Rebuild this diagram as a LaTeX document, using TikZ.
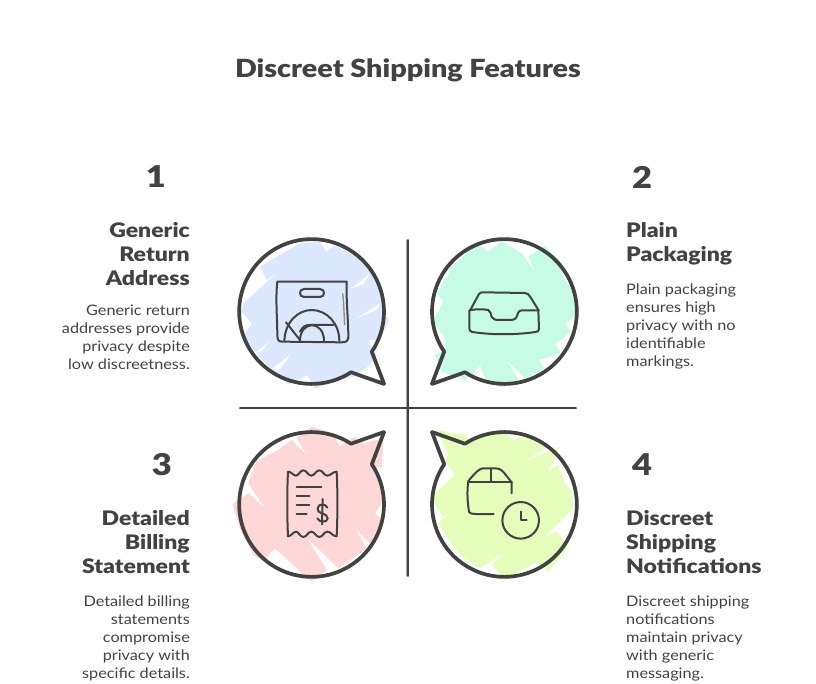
\documentclass[tikz,border=0pt]{standalone}
\usepackage{fontspec}
\setmainfont{Lato}[FakeStretch=1.12,BoldFont={Lato Black},BoldFeatures={FakeStretch=1.15}]
\definecolor{ink}{HTML}{424242}
\definecolor{fillA}{HTML}{DBE8FE}
\definecolor{fillB}{HTML}{C6FCE5}
\definecolor{fillC}{HTML}{FED7D7}
\definecolor{fillD}{HTML}{E6FEBC}
\newcommand{\bubbleoutline}{(60.2,-40.2) arc[start angle=-33.7,end angle=303,radius=72.4pt] -- (72.5,-72.5) -- cycle}
\tikzset{
  x=1pt,y=1pt,
  zoomA/.style={shift={(220,459)},x=0.33333pt,y=-0.33333pt},
  zoomB/.style={shift={(405,459)},x=0.33333pt,y=-0.33333pt},
  zoomC/.style={shift={(220,279)},x=0.33333pt,y=-0.33333pt},
  zoomD/.style={shift={(405,279)},x=0.33333pt,y=-0.33333pt},
  bubble/.style={draw=ink,line width=3.7pt,line join=round},
  iconline/.style={draw=ink,line width=2pt,line cap=round,line join=round},
  axisline/.style={draw=ink,line width=1.8pt,line cap=round},
  axisghost/.style={draw=ink!45,line width=1.2pt,line cap=round},
  titletext/.style={text=ink,font=\fontsize{25}{30}\selectfont\bfseries},
  numtext/.style={text=ink,font=\fontsize{30}{32}\selectfont\bfseries},
  headL/.style={text=ink,font=\fontsize{20}{24}\selectfont\bfseries,align=right,anchor=north east,inner sep=0pt},
  headR/.style={text=ink,font=\fontsize{20}{24}\selectfont\bfseries,align=left,anchor=north west,inner sep=0pt},
  bodyL/.style={text=ink,font=\fontsize{14.5}{18}\selectfont,align=right,anchor=north east,inner sep=0pt},
  bodyR/.style={text=ink,font=\fontsize{14.5}{18}\selectfont,align=left,anchor=north west,inner sep=0pt},
}
\begin{document}
\begin{tikzpicture}
\useasboundingbox (0,0) rectangle (816,684);
\fill[white] (0,0) rectangle (816,684);
% sketchy fills
\begin{scope}[zoomA]
\fill[fillA] (120,125)--(240,55)--(300,50)--(318,80)--(345,62)--(430,105)--(480,190)--(490,260)--(507,285)--(480,345)--(445,345)--(470,395)--(450,420)--(400,455)--(350,465)--(285,492)--(262,450)--(235,465)--(205,478)--(160,440)--(110,385)--(70,335)--(95,295)--(65,260)--(70,235)--(175,140)--(140,165)--cycle;
\fill[white] (395,190)--(450,145)--(430,178)--cycle (410,280)--(480,235)--(470,255)--cycle (108,382)--(148,350)--(125,378)--cycle (158,430)--(210,390)--(175,440)--cycle (160,85)--(240,55)--(190,80)--cycle;
\end{scope}
\begin{scope}[zoomB]
\fill[fillB] (130,135)--(170,100)--(210,50)--(250,80)--(290,50)--(350,85)--(390,140)--(370,95)--(420,62)--(470,115)--(470,150)--(510,210)--(522,265)--(480,295)--(497,320)--(450,360)--(470,385)--(400,405)--(418,430)--(360,460)--(305,405)--(340,465)--(290,488)--(240,460)--(225,420)--(205,445)--(180,465)--(110,440)--(90,390)--(120,375)--(120,340)--(85,290)--(115,230)--(95,205)--(135,140)--(175,190)--cycle;
\end{scope}
\begin{scope}[zoomC]
\fill[fillC] (275,65)--(340,85)--(375,165)--(355,125)--(405,95)--(430,115)--(490,100)--(485,188)--(470,185)--(495,280)--(465,325)--(490,345)--(480,385)--(450,415)--(405,370)--(440,430)--(355,490)--(262,400)--(320,495)--(275,530)--(165,430)--(130,468)--(100,450)--(60,370)--(37,297)--(85,265)--(135,310)--(85,235)--(110,165)--(130,185)--(115,165)--(175,135)--(215,105)--(260,150)--(230,100)--cycle;
\end{scope}
\begin{scope}[zoomD]
\fill[fillD] (90,75)--(185,90)--(190,105)--(290,72)--(325,108)--(345,95)--(400,105)--(420,130)--(360,170)--(465,125)--(430,200)--(460,178)--(480,235)--(500,260)--(505,310)--(420,395)--(455,380)--(492,425)--(430,500)--(395,470)--(300,525)--(260,480)--(292,445)--(225,490)--(170,455)--(135,410)--(100,355)--(140,315)--(115,335)--(90,300)--(85,270)--(150,210)--(120,170)--(130,145)--(110,105)--cycle;
\end{scope}
% axes
\coordinate (vt) at (408,444);
\coordinate (vb) at (408,108);
\coordinate (hl) at (240,276);
\coordinate (hr) at (576,276);
\draw[axisghost] ([xshift=-1pt]vt) -- ([xshift=-1pt]vb);
\draw[axisghost] ([yshift=-0.8pt]hl) -- ([yshift=-0.8pt]hr);
\draw[axisline] (vt) -- (vb);
\draw[axisline] (hl) -- (hr);
% bubbles
\begin{scope}[shift={(311.6,372.5)}]
\draw[bubble] \bubbleoutline;
\end{scope}
\begin{scope}[shift={(504.4,372.5)},xscale=-1]
\draw[bubble] \bubbleoutline;
\end{scope}
\begin{scope}[shift={(311.6,179.5)},yscale=-1]
\draw[bubble] \bubbleoutline;
\end{scope}
\begin{scope}[shift={(504.4,179.5)},xscale=-1,yscale=-1]
\draw[bubble] \bubbleoutline;
\end{scope}
% icon 1: bag
\begin{scope}[zoomA]
\draw[iconline] (172,170) -- (380,170) .. controls (378,220) and (385,290) .. (385,335) .. controls (385,348) and (378,352) .. (365,352) -- (185,350) .. controls (175,350) and (172,342) .. (172,335) .. controls (172,280) and (166,220) .. (172,170);
\draw[iconline] (252,192) -- (300,192) .. controls (316,192) and (316,216) .. (300,216) -- (252,216) .. controls (236,216) and (236,192) .. (252,192);
\draw[iconline] (193,348) .. controls (195,290) and (235,255) .. (275,255) .. controls (320,255) and (358,295) .. (358,348);
\draw[iconline] (240,348) .. controls (240,285) and (312,285) .. (312,348);
\draw[iconline] (198,292) -- (240,345);
\draw[iconline] (240,320) .. controls (248,305) and (255,300) .. (270,300) -- (342,300);
\draw[draw=ink!60,line width=1.4pt] (368,205) .. controls (372,240) and (372,270) .. (374,300);
\end{scope}
% icon 2: tray
\begin{scope}[zoomB]
\draw[iconline] (197,253) -- (222,207) .. controls (226,202) and (230,202) .. (235,202) -- (360,204) .. controls (368,204) and (372,210) .. (376,216) -- (401,256);
\draw[iconline] (193,256) .. controls (210,252) and (235,252) .. (250,255) .. controls (258,258) and (256,268) .. (260,276) .. controls (264,284) and (272,285) .. (285,285) -- (315,285) .. controls (330,285) and (334,280) .. (337,270) .. controls (340,258) and (345,256) .. (355,256) -- (400,256) -- (402,312) .. controls (402,318) and (398,320) .. (392,321) .. controls (330,330) and (260,330) .. (202,321) .. controls (195,320) and (193,316) .. (193,310) -- cycle;
\end{scope}
% icon 3: receipt
\begin{scope}[zoomC]
\draw[iconline] (204,200) .. controls (214,200) and (220,212) .. (228,212) .. controls (236,212) and (240,196) .. (250,196) .. controls (260,196) and (264,212) .. (274,212) .. controls (284,212) and (288,196) .. (298,196) .. controls (308,196) and (312,212) .. (322,212) .. controls (332,212) and (338,200) .. (350,200) .. controls (353,260) and (353,330) .. (350,394) .. controls (338,394) and (332,380) .. (322,380) .. controls (312,380) and (308,396) .. (298,396) .. controls (288,396) and (284,380) .. (274,380) .. controls (264,380) and (260,396) .. (250,396) .. controls (240,396) and (236,380) .. (228,380) .. controls (220,380) and (214,394) .. (204,394) .. controls (201,330) and (201,260) .. (204,200);
\draw[iconline] (230,245) -- (304,245);
\draw[iconline] (230,272) -- (268,272);
\draw[iconline] (230,300) -- (268,300);
\draw[iconline] (230,328) -- (260,328);
\draw[iconline] (322,308) .. controls (318,296) and (294,294) .. (293,310) .. controls (292,330) and (323,322) .. (323,340) .. controls (323,354) and (296,352) .. (292,340);
\draw[iconline] (308,282) -- (306,358);
\end{scope}
% icon 4: box and clock
\begin{scope}[zoomD]
\draw[iconline] (320,265) -- (320,232) -- (296,202) .. controls (285,190) and (280,190) .. (260,190) -- (235,190) .. controls (225,190) and (215,198) .. (190,228) .. controls (185,260) and (188,295) .. (192,320) .. controls (194,328) and (210,328) .. (266,327);
\draw[iconline] (190,230) -- (320,230);
\draw[iconline] (257,190) -- (257,230);
\draw[iconline] (347,346) circle[radius=18.3pt];
\draw[iconline] (347,320) -- (347,346) -- (365,346);
\end{scope}
% texts
\node[titletext] (title) at (408,613.5) {Discreet Shipping Features};
\node[numtext] (n1) at (156,507) {1};
\node[numtext] (n2) at (642,507) {2};
\node[numtext] (n3) at (162,219) {3};
\node[numtext] (n4) at (642,219) {4};
\node[headL] (h1) at (190,462) {Generic\\Return\\Address};
\node[bodyL] (b1) at (190,379) {Generic return\\addresses provide\\privacy despite\\low discreetness.};
\node[headR] (h2) at (626,462) {Plain\\Packaging};
\node[bodyR] (b2) at (626,400) {Plain packaging\\ensures high\\privacy with no\\identifiable\\markings.};
\node[headL] (h3) at (190,174) {Detailed\\Billing\\Statement};
\node[bodyL] (b3) at (190,88) {Detailed billing\\statements\\compromise\\privacy with\\specific details.};
\node[headR] (h4) at (626,174) {Discreet\\Shipping\\Notifications};
\node[bodyR] (b4) at (626,88) {Discreet shipping\\notifications\\maintain privacy\\with generic\\messaging.};
\end{tikzpicture}
\end{document}
